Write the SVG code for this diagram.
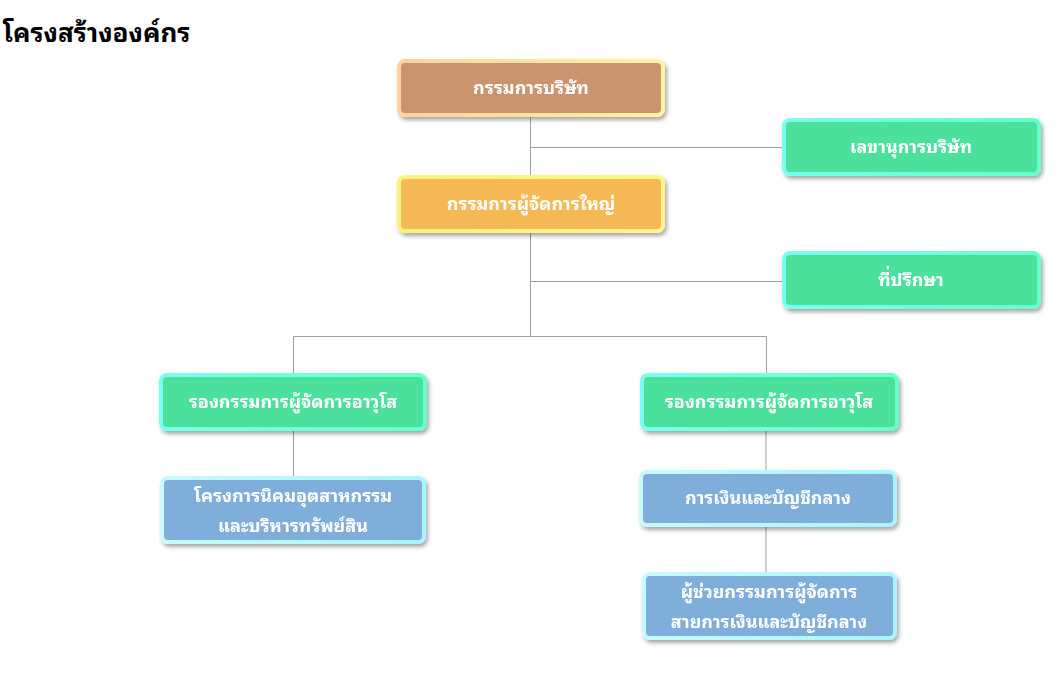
<svg xmlns="http://www.w3.org/2000/svg" width="1063" height="676" viewBox="0 0 1063 676">
<defs>
<filter id="sh" x="-10%" y="-20%" width="125%" height="150%">
<feGaussianBlur in="SourceAlpha" stdDeviation="2"/>
<feOffset dx="2" dy="3" result="b"/>
<feComponentTransfer><feFuncA type="linear" slope="0.35"/></feComponentTransfer>
<feMerge><feMergeNode/><feMergeNode in="SourceGraphic"/></feMerge>
</filter>
<linearGradient id="gBrown" x1="0" y1="0" x2="1" y2="0"><stop offset="0" stop-color="#FFD29A"/><stop offset="1" stop-color="#FFF4A0"/></linearGradient>
<linearGradient id="gYellow" x1="0" y1="0" x2="1" y2="0"><stop offset="0" stop-color="#FFF27A"/><stop offset="1" stop-color="#FFF68A"/></linearGradient>
<linearGradient id="gGreen" x1="0" y1="0" x2="1" y2="0"><stop offset="0" stop-color="#7AFFF0"/><stop offset="1" stop-color="#66FFCC"/></linearGradient>
<linearGradient id="gBlue" x1="0" y1="0" x2="1" y2="0"><stop offset="0" stop-color="#C8FAFF"/><stop offset="1" stop-color="#A8F4FF"/></linearGradient>
</defs>
<style>
.t{font-family:"Noto Sans Thai Looped","Noto Serif Thai","Garuda","Loma","Tahoma","Noto Sans Thai","Liberation Sans",sans-serif;font-weight:bold;fill:#fff;font-size:18px;text-anchor:middle}
.title{font-family:"Noto Sans Thai Looped","Noto Serif Thai","Garuda","Loma","Tahoma","Noto Sans Thai","Liberation Sans",sans-serif;font-weight:bold;fill:#000;font-size:26px}
.c{stroke:#a0a0a0;stroke-width:1;fill:none}
.box{stroke-width:4}
.brown{fill:#CB9470;stroke:url(#gBrown)}
.yel{fill:#F5B955;stroke:url(#gYellow)}
.grn{fill:#4BE09C;stroke:url(#gGreen)}
.blu{fill:#7FAEDB;stroke:url(#gBlue)}
</style>
<rect width="1063" height="676" fill="#fff"/>
<text class="title" x="3" y="42">โครงสร้างองค์กร</text>
<g id="connectors">
<path class="c" d="M530.5 117V175M530.5 147.5H782M530.5 233V336.5M530.5 281.5H782M293.5 336.5H766.5M293.5 336.5V373M766.5 336.5V373M293.5 431V476M766 431V470M766 527V572"/>
</g>
<g id="n1" filter="url(#sh)"><rect class="box brown" x="399" y="61" width="264" height="54" rx="6"/><text class="t" x="531" y="94">กรรมการบริษัท</text></g>
<g id="n2" filter="url(#sh)"><rect class="box yel" x="399" y="177" width="264" height="54" rx="6"/><text class="t" x="531" y="210">กรรมการผู้จัดการใหญ่</text></g>
<g id="n3" filter="url(#sh)"><rect class="box grn" x="784" y="120" width="255" height="54" rx="6"/><text class="t" x="911" y="153">เลขานุการบริษัท</text></g>
<g id="n4" filter="url(#sh)"><rect class="box grn" x="784" y="253" width="255" height="54" rx="6"/><text class="t" x="911" y="286">ที่ปรึกษา</text></g>
<g id="n5" filter="url(#sh)"><rect class="box grn" x="161" y="375" width="264" height="54" rx="6"/><text class="t" x="293" y="408">รองกรรมการผู้จัดการอาวุโส</text></g>
<g id="n6" filter="url(#sh)"><rect class="box grn" x="642" y="375" width="255" height="54" rx="6"/><text class="t" x="769" y="408">รองกรรมการผู้จัดการอาวุโส</text></g>
<g id="n7" filter="url(#sh)"><rect class="box blu" x="162" y="478" width="262" height="64" rx="6"/><text class="t" x="293" y="502">โครงการนิคมอุตสาหกรรม</text><text class="t" x="293" y="532">และบริหารทรัพย์สิน</text></g>
<g id="n8" filter="url(#sh)"><rect class="box blu" x="641" y="472" width="254" height="53" rx="6"/><text class="t" x="768" y="504">การเงินและบัญชีกลาง</text></g>
<g id="n9" filter="url(#sh)"><rect class="box blu" x="644" y="574" width="251" height="64" rx="6"/><text class="t" x="769" y="598">ผู้ช่วยกรรมการผู้จัดการ</text><text class="t" x="769" y="628">สายการเงินและบัญชีกลาง</text></g>
</svg>
